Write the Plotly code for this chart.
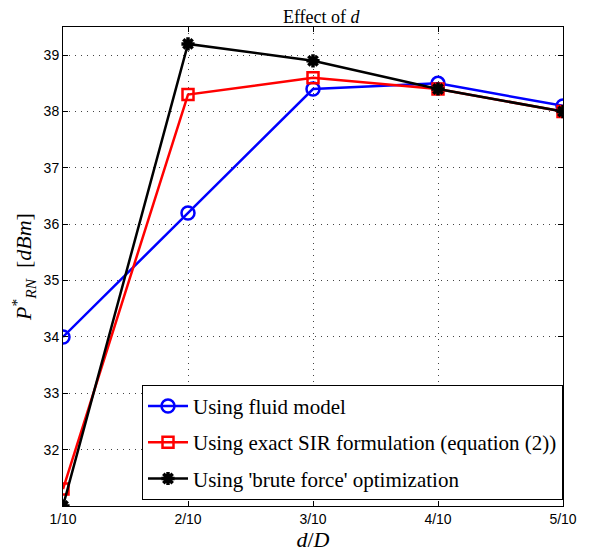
import plotly.graph_objects as go

x_vals = [0.1, 0.2, 0.3, 0.4, 0.5]
x_labels = ["1/10", "2/10", "3/10", "4/10", "5/10"]
fluid = [34.0, 36.2, 38.4, 38.5, 38.1]
exact = [31.3, 38.3, 38.6, 38.4, 38.0]
brute = [31.0, 39.2, 38.9, 38.4, 38.0]
y_ticks = [32, 33, 34, 35, 36, 37, 38, 39]

names = ["Using fluid model",
         "Using exact SIR formulation (equation (2))",
         "Using 'brute force' optimization"]

fig = go.Figure()
fig.add_trace(go.Scatter(x=x_vals, y=fluid, mode="lines+markers", name=names[0],
                         legendgroup="a",
                         line=dict(color="#0000ff", width=2.5),
                         marker=dict(symbol="circle-open", size=13, color="#0000ff",
                                     line=dict(width=2.5, color="#0000ff"))))
fig.add_trace(go.Scatter(x=x_vals, y=exact, mode="lines+markers", name=names[1],
                         legendgroup="b",
                         line=dict(color="#ff0000", width=2.5),
                         marker=dict(symbol="square-open", size=11, color="#ff0000",
                                     line=dict(width=2.5, color="#ff0000"))))
fig.add_trace(go.Scatter(x=x_vals, y=brute, mode="lines+markers", name=names[2],
                         legendgroup="c",
                         line=dict(color="#000000", width=2.5),
                         marker=dict(symbol="asterisk-open", size=11, color="#000000",
                                     line=dict(width=3.5, color="#000000"))))

axis_common = dict(showline=True, linecolor="black", linewidth=1, mirror="ticks",
                   ticks="inside", ticklen=5, tickcolor="black", automargin=False,
                   showgrid=True, gridcolor="#444444", gridwidth=1, griddash="1px,5px",
                   zeroline=False,
                   tickfont=dict(family="Liberation Sans, Arial", size=14, color="black"))

fig.update_xaxes(range=[0.1, 0.5], tickvals=x_vals, ticktext=x_labels,
                 title=dict(text="<i>d</i>/<i>D</i>", standoff=4,
                            font=dict(family="Liberation Serif, serif", size=22, color="black")),
                 **axis_common)
fig.update_yaxes(range=[31, 39.5], tickvals=y_ticks,
                 title=dict(text="<i>P</i><sup>*</sup><sub><i>RN</i></sub>  [<i>dBm</i>]", standoff=10,
                            font=dict(family="Liberation Serif, serif", size=22, color="black")),
                 **axis_common)

fig.update_layout(
    width=591, height=556,
    margin=dict(l=55, r=36, t=19, b=58),
    plot_bgcolor="white", paper_bgcolor="white",
    title=dict(text="Effect of <i>d</i>", x=0.53, xanchor="center", y=1.0, yanchor="top",
               pad=dict(t=2),
               font=dict(family="Liberation Serif, serif", size=18, color="black")),
    legend=dict(x=0.158, y=0.013, xanchor="left", yanchor="bottom",
                bgcolor="white", bordercolor="black", borderwidth=1,
                font=dict(family="Liberation Serif, serif", size=21, color="black"),
                traceorder="grouped", tracegroupgap=6, itemwidth=40),
    showlegend=True,
)

fig.write_html("out.html")
